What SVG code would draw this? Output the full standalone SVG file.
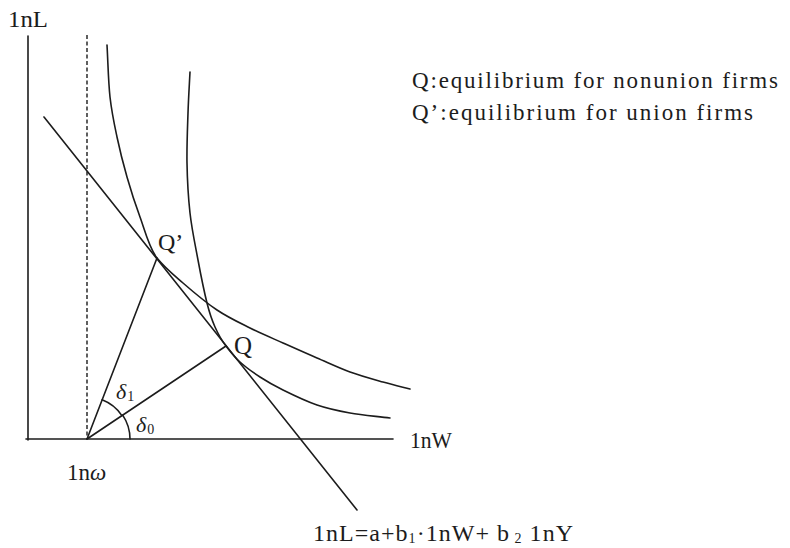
<svg xmlns="http://www.w3.org/2000/svg" width="790" height="548" viewBox="0 0 790 548">
<style>
.ln{fill:none;stroke:#1c1c1c;stroke-width:1.6;stroke-linecap:round}
.dash{fill:none;stroke:#1c1c1c;stroke-width:1.4;stroke-dasharray:4 2.5}
.t{font-family:"Liberation Serif","DejaVu Serif",serif;fill:#1c1c1c}
</style>
<rect width="790" height="548" fill="#fff"/>
<g id="axes">
<line class="ln" x1="28" y1="36" x2="28" y2="440"/>
<line class="ln" x1="26" y1="439" x2="393" y2="439"/>
<line class="dash" x1="87" y1="35" x2="87" y2="439"/>
</g>
<g id="isoquant-union">
<path class="ln" d="M107,45 C108,62.3 108.3,81.7 110,97 C111.7,112.3 114.2,123.7 117,137 C119.8,150.3 123.2,163.7 127,177 C130.8,190.3 135,203.5 140,217 C145,230.5 149,248 157,258 C165,268 173,274.3 183,283 C193,291.7 205.8,302.5 217,310 C228.2,317.5 239,322.5 250,328 C261,333.5 271.8,338 283,343 C294.2,348 305.8,353.2 317,358 C328.2,362.8 339,368 350,372 C361,376 373,379.2 383,382 C393,384.8 401,386.7 410,389"/>
</g>
<g id="isoquant-nonunion">
<path class="ln" d="M190,72 C189.3,85.7 188.5,97.8 188,113 C187.5,128.2 186.7,146.3 187,163 C187.3,179.7 188.2,196.8 190,213 C191.8,229.2 195.2,245 198,260 C200.8,275 204.2,291.8 207,303 C209.8,314.2 211.8,319.8 215,327 C218.2,334.2 221.5,340.3 226,346 C230.5,351.7 234.3,356.8 240,362 C245.7,367.2 252.8,372.3 260,377 C267.2,381.7 273.5,385.3 283,390 C292.5,394.7 305.8,401.2 317,405 C328.2,408.8 337.8,410.8 350,413 C362.2,415.2 376.7,416.3 390,418"/>
</g>
<g id="connectors">
<line class="ln" x1="44" y1="117" x2="357" y2="510"/>
<line class="ln" x1="87" y1="439" x2="157" y2="258"/>
<line class="ln" x1="87" y1="439" x2="226" y2="346"/>
<path class="ln" d="M102.1,399.8 A42,42 0 0 1 121.9,415.6"/>
<path class="ln" d="M122.7,415.1 A43,43 0 0 1 130,439"/>
</g>
<g id="labels">
<text class="t" x="8" y="27" font-size="23" textLength="40" lengthAdjust="spacingAndGlyphs">1nL</text>
<text class="t" x="410" y="448" font-size="23" textLength="42" lengthAdjust="spacingAndGlyphs">1nW</text>
<text class="t" x="67" y="480" font-size="23">1n<tspan font-style="italic">ω</tspan></text>
<text class="t" x="158" y="250" font-size="24">Q’</text>
<text class="t" x="234" y="354" font-size="25">Q</text>
<text class="t" x="116" y="399" font-size="22" font-style="italic">δ<tspan font-size="14" font-style="normal" dx="1" dy="2">1</tspan></text>
<text class="t" x="136" y="432" font-size="22" font-style="italic">δ<tspan font-size="14" font-style="normal" dx="1" dy="2">0</tspan></text>
<text class="t" x="412" y="88" font-size="23" textLength="366" lengthAdjust="spacing">Q:equilibrium for nonunion firms</text>
<text class="t" x="412" y="120" font-size="23" textLength="341" lengthAdjust="spacing">Q’:equilibrium for union firms</text>
<text class="t" x="313" y="541" font-size="24" textLength="260" lengthAdjust="spacing">1nL=a+b<tspan font-size="14" dy="2">1</tspan><tspan dy="-2">·1nW+ b</tspan><tspan font-size="14" dy="2"> 2</tspan><tspan dy="-2"> 1nY</tspan></text>
</g>
</svg>
